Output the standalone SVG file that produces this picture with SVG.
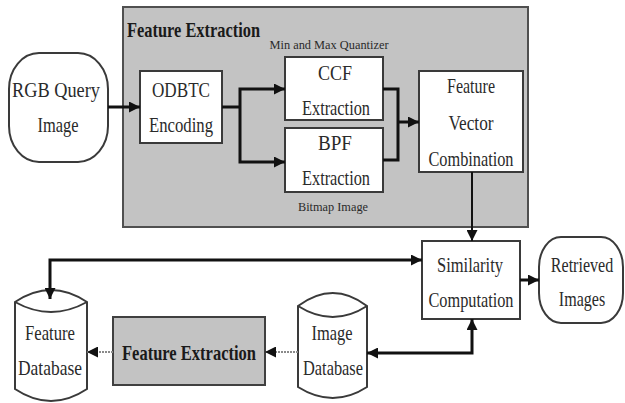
<svg xmlns="http://www.w3.org/2000/svg" width="625" height="403" viewBox="0 0 625 403">
  <style>
    .box { fill: #ffffff; stroke: #3a3a3a; stroke-width: 2; }
    .panel { fill: #c3c3c3; stroke: #505050; stroke-width: 2; }
    .t { font-family: "Liberation Serif", "Times New Roman", serif; font-size: 22px; fill: #2a2a2a; text-anchor: middle; }
    .tb { font-family: "Liberation Serif", "Times New Roman", serif; font-size: 22px; font-weight: bold; fill: #1a1a1a; }
    .ts { font-family: "Liberation Serif", "Times New Roman", serif; font-size: 13px; fill: #2a2a2a; text-anchor: middle; }
    .wire { fill: none; stroke: #111111; stroke-width: 3; }
    .thin { fill: none; stroke: #111111; stroke-width: 2; }
    .dash { fill: none; stroke: #8a8a8a; stroke-width: 2; stroke-dasharray: 2 1; }
  </style>
  <defs>
    <marker id="arrow" viewBox="0 0 10 10" refX="10" refY="5" markerWidth="11" markerHeight="11" markerUnits="userSpaceOnUse" orient="auto-start-reverse">
      <path d="M0 0 L10 5 L0 10 Z" fill="#111111"/>
    </marker>
  </defs>

  <rect width="625" height="403" fill="#ffffff"/>

  <!-- feature extraction panel -->
  <g id="feature-extraction-panel">
    <rect class="panel" x="123" y="7" width="405" height="220"/>
    <text class="tb" x="127" y="37" textLength="133" lengthAdjust="spacingAndGlyphs">Feature Extraction</text>
  </g>

  <g id="rgb-query-image">
    <rect class="box" x="9" y="53" width="99" height="109" rx="30" ry="36"/>
    <text class="t" x="56" y="97" textLength="88" lengthAdjust="spacingAndGlyphs">RGB Query</text>
    <text class="t" x="58" y="132" textLength="41" lengthAdjust="spacingAndGlyphs">Image</text>
  </g>

  <g id="odbtc-encoding">
    <rect class="box" x="140" y="71" width="82" height="72"/>
    <text class="t" x="181" y="97" textLength="58" lengthAdjust="spacingAndGlyphs">ODBTC</text>
    <text class="t" x="181" y="132" textLength="64" lengthAdjust="spacingAndGlyphs">Encoding</text>
  </g>

  <g id="ccf-extraction">
    <text class="ts" x="329" y="49" textLength="119" lengthAdjust="spacingAndGlyphs">Min and Max Quantizer</text>
    <rect class="box" x="285" y="57" width="98" height="63"/>
    <text class="t" x="335" y="80" textLength="34" lengthAdjust="spacingAndGlyphs">CCF</text>
    <text class="t" x="336" y="115" textLength="68" lengthAdjust="spacingAndGlyphs">Extraction</text>
  </g>

  <g id="bpf-extraction">
    <rect class="box" x="285" y="128" width="98" height="64"/>
    <text class="t" x="335" y="150" textLength="34" lengthAdjust="spacingAndGlyphs">BPF</text>
    <text class="t" x="336" y="185" textLength="68" lengthAdjust="spacingAndGlyphs">Extraction</text>
    <text class="ts" x="333" y="211" textLength="70" lengthAdjust="spacingAndGlyphs">Bitmap Image</text>
  </g>

  <g id="feature-vector-combination">
    <rect class="box" x="419" y="71" width="104" height="101"/>
    <text class="t" x="471" y="93" textLength="48" lengthAdjust="spacingAndGlyphs">Feature</text>
    <text class="t" x="471" y="130" textLength="45" lengthAdjust="spacingAndGlyphs">Vector</text>
    <text class="t" x="471" y="166" textLength="85" lengthAdjust="spacingAndGlyphs">Combination</text>
  </g>

  <g id="similarity-computation">
    <rect class="box" x="422" y="241" width="98" height="78"/>
    <text class="t" x="470" y="272" textLength="66" lengthAdjust="spacingAndGlyphs">Similarity</text>
    <text class="t" x="471" y="307" textLength="85" lengthAdjust="spacingAndGlyphs">Computation</text>
  </g>

  <g id="retrieved-images">
    <rect class="box" x="539" y="237" width="84" height="86" rx="22" ry="30"/>
    <text class="t" transform="translate(582 272) scale(0.73 1)">Retrieved</text>
    <text class="t" transform="translate(582 306) scale(0.73 1)">Images</text>
  </g>

  <g id="feature-database">
    <path class="box" d="M15 302 Q51 278 87 302 L87 389 Q51 413 15 389 Z"/>
    <path class="box" fill="none" d="M15 302 Q51 322 87 302"/>
    <text class="t" x="50" y="340" textLength="50" lengthAdjust="spacingAndGlyphs">Feature</text>
    <text class="t" x="50" y="375" textLength="64" lengthAdjust="spacingAndGlyphs">Database</text>
  </g>

  <g id="feature-extraction-offline">
    <rect x="113" y="317" width="152" height="68" fill="#c3c3c3" stroke="#404040" stroke-width="2"/>
    <text class="tb" x="122" y="360" textLength="134" lengthAdjust="spacingAndGlyphs">Feature Extraction</text>
  </g>

  <g id="image-database">
    <path class="box" d="M298 306 Q333 280 367 306 L367 387 Q333 409 298 387 Z"/>
    <path class="box" fill="none" d="M298 306 Q333 328 367 306"/>
    <text class="t" x="332" y="340" textLength="41" lengthAdjust="spacingAndGlyphs">Image</text>
    <text class="t" x="333" y="375" textLength="60" lengthAdjust="spacingAndGlyphs">Database</text>
  </g>

  <!-- connectors -->
  <g id="connectors">
    <path class="wire" d="M108 107 H140" marker-end="url(#arrow)"/>
    <path class="wire" d="M222 107 H240"/>
    <path class="wire" d="M285 89 H240 V162 H285" marker-start="url(#arrow)" marker-end="url(#arrow)"/>
    <path class="wire" d="M383 89 H398 V160 H383"/>
    <path class="wire" d="M398 122 H419" marker-end="url(#arrow)"/>
    <path class="thin" d="M472 172 V241" marker-end="url(#arrow)"/>
    <path class="wire" d="M520 280 H539" marker-end="url(#arrow)"/>
    <path class="wire" d="M422 260 H50 V299" marker-start="url(#arrow)" marker-end="url(#arrow)"/>
    <path class="wire" d="M367 353 H472 V319" marker-start="url(#arrow)" marker-end="url(#arrow)"/>
    <path class="dash" d="M298 352 H265" marker-end="url(#arrow)"/>
    <path class="dash" d="M113 352 H87" marker-end="url(#arrow)"/>
  </g>
</svg>
